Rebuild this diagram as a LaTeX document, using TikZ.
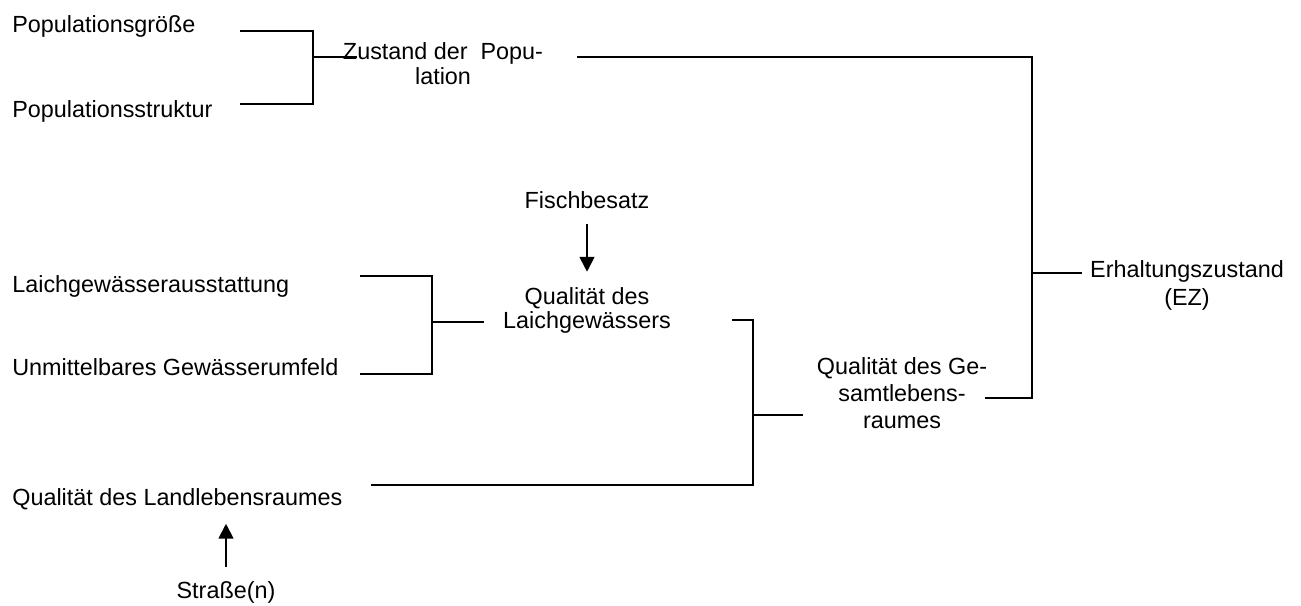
\documentclass[tikz,border=0pt]{standalone}
\usepackage{fontspec}
\setmainfont{Liberation Sans}
\usetikzlibrary{arrows.meta}
\tikzset{
  every picture/.style={line join=miter},
  lbl/.style={inner sep=0pt, font=\fontsize{13.3}{14.2}\selectfont},
  blk/.style={inner sep=0pt, align=center, anchor=base,
    font=\fontsize{13.3}{#1}\selectfont},
  blk/.default=14,
  wire/.style={line width=0.75pt},
  push/.style={line width=1.1pt, -{Triangle[length=8.5pt,width=8.5pt]}},
}

\begin{document}
\begin{tikzpicture}[x=0.02cm, y=-0.02cm]
    \useasboundingbox (0,0) rectangle (1301,605);

    % Inputs on the left
    \node[lbl, anchor=base west] (groesse) at (12,32) {Populationsgröße};
    \node[lbl, anchor=base west] (struktur) at (12,117) {Populationsstruktur};
    \node[lbl, anchor=base west] (ausstatt) at (12,292) {Laichgewässerausstattung};
    \node[lbl, anchor=base west] (umfeld) at (12,375) {Unmittelbares Gewässerumfeld};
    \node[lbl, anchor=base west] (land) at (12,505) {Qualität des Landlebensraumes};
    \node[lbl, anchor=base] (strasse) at (226,598) {Straße(n)};
    \node[lbl, anchor=base] (fisch) at (587,208) {Fischbesatz};

    % Intermediate and final states (anchored at the last line)
    \node[blk=13.7] (zustand) at (443,84) {Zustand der\ \ Popu-\\lation};
    \node[blk=13.1] (laich) at (587,328) {Qualität des\\Laichgewässers};
    \node[blk=15.1] (gesamt) at (902,428) {Qualität des Ge-\\samtlebens-\\raumes};
    \node[blk=15.6] (erhalt) at (1187,305) {Erhaltungszustand\\(EZ)};

    % Bracket: population
    \coordinate (pg) at (240,31);
    \coordinate (ps) at (240,104);
    \coordinate (pj) at (313,57);
    \coordinate (pz) at (357,57);
    \draw[wire] (pg) -| (pj) |- (ps);
    \draw[wire] (pj) -- (pz);

    % Bracket: overall state
    \coordinate (zr) at (577,57);
    \coordinate (gr) at (985,398);
    \coordinate (ej) at (1032,273);
    \coordinate (ee) at (1082,273);
    \draw[wire] (zr) -| (ej) |- (gr);
    \draw[wire] (ej) -- (ee);

    % Bracket: spawning water
    \coordinate (la) at (360,276);
    \coordinate (lu) at (360,374);
    \coordinate (lj) at (432,322);
    \coordinate (lq) at (484,322);
    \draw[wire] (la) -| (lj) |- (lu);
    \draw[wire] (lj) -- (lq);

    % Bracket: whole habitat
    \coordinate (qr) at (732,320);
    \coordinate (ql) at (371,485);
    \coordinate (gj) at (753,415);
    \coordinate (gq) at (803,415);
    \draw[wire] (qr) -| (gj) |- (ql);
    \draw[wire] (gj) -- (gq);

    % Influences
    \draw[push, shorten <=0.3cm, shorten >=0.32cm] (fisch.south) -- (laich.north);
    \draw[push, shorten <=0.28cm, shorten >=0.28cm] (strasse.north) -- (land.south -| strasse.north);
\end{tikzpicture}
\end{document}
